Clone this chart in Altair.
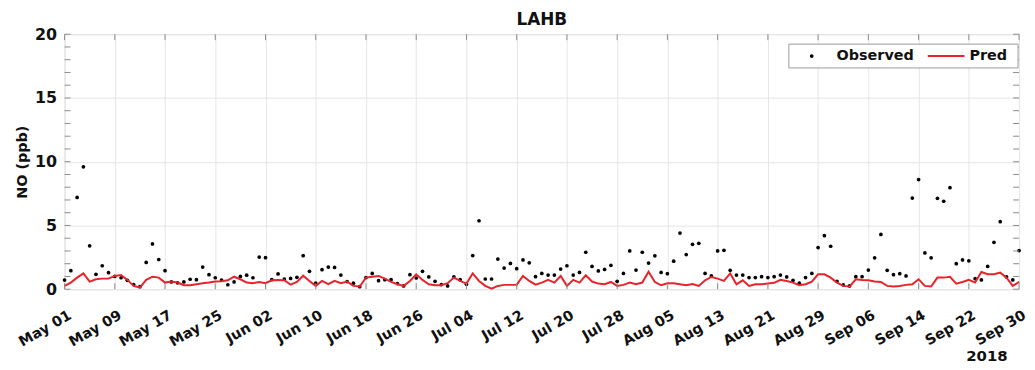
import altair as alt
import pandas as pd

# ---- data (daily, 2018-05-01 .. 2018-09-30) ----
observed = [
    0.72, 1.45, 7.2, 9.6, 3.4, 1.17, 1.84, 1.3, 1.0, 0.9,
    0.7, 0.36, 0.2, 2.1, 3.55, 2.33, 1.45, 0.57, 0.5, 0.57,
    0.78, 0.75, 1.74, 1.14, 0.9, 0.72, 0.35, 0.57, 1.0, 1.1,
    0.9, 2.52, 2.47, 0.75, 1.2, 0.8, 0.85, 0.93, 2.63, 1.4,
    0.47, 1.53, 1.74, 1.71, 1.11, 0.6, 0.47, 0.2, 0.91, 1.24,
    0.67, 0.75, 0.75, 0.44, 0.26, 1.14, 0.88, 1.4, 0.96, 0.62,
    0.36, 0.26, 0.96, 0.75, 0.39, 2.64, 5.37, 0.8, 0.8, 2.36,
    1.66, 2.02, 1.61, 2.3, 2.07, 0.98, 1.24, 1.11, 1.11, 1.58,
    1.84, 1.11, 1.32, 2.9, 1.79, 1.43, 1.55, 1.87, 0.62, 1.24,
    3.0, 1.5, 2.9, 2.05, 2.62, 1.32, 1.22, 2.2, 4.4, 2.72,
    3.52, 3.6, 1.24, 1.04, 3.0, 3.05, 1.48, 1.11, 1.11, 0.91,
    0.91, 0.98, 0.91, 0.98, 1.11, 0.96, 0.7, 0.47, 0.91, 1.24,
    3.27, 4.2, 3.37, 0.62, 0.34, 0.26, 0.98, 0.98, 1.5, 2.46,
    4.3, 1.48, 1.14, 1.22, 1.04, 7.15, 8.6, 2.85, 2.46, 7.13,
    6.9, 7.96, 2.0, 2.3, 2.23, 0.83, 0.73, 1.79, 3.68, 5.3,
    0.96, 0.73, 3.03,
]
pred = [
    0.26, 0.52, 0.91, 1.24, 0.6, 0.78, 0.83, 0.83, 1.04, 1.11,
    0.73, 0.26, 0.13, 0.73, 0.98, 0.91, 0.52, 0.6, 0.52, 0.31,
    0.31, 0.39, 0.47, 0.52, 0.6, 0.62, 0.7, 0.98, 0.78, 0.52,
    0.47, 0.57, 0.47, 0.7, 0.73, 0.7, 0.36, 0.57, 1.06, 0.65,
    0.26, 0.65, 0.39, 0.65, 0.47, 0.6, 0.26, 0.21, 0.91, 0.98,
    1.04, 0.83, 0.57, 0.39, 0.26, 0.65, 1.17, 0.73, 0.39, 0.31,
    0.31, 0.47, 0.91, 0.65, 0.44, 1.24, 0.65, 0.26, 0.05, 0.26,
    0.34, 0.34, 0.34, 1.04, 0.65, 0.36, 0.52, 0.73, 0.52, 1.04,
    0.26, 0.73, 0.52, 1.09, 0.6, 0.44, 0.39, 0.57, 0.26, 0.34,
    0.52, 0.39, 0.52, 1.37, 0.57, 0.31, 0.47, 0.47, 0.39, 0.31,
    0.41, 0.26, 0.7, 0.96, 0.83, 0.65, 1.24, 0.39, 0.7, 0.26,
    0.39, 0.39, 0.44, 0.5, 0.74, 0.65, 0.52, 0.31, 0.39, 0.6,
    1.17, 1.17, 0.91, 0.52, 0.26, 0.21, 0.78, 0.73, 0.7, 0.6,
    0.57, 0.26, 0.21, 0.26, 0.34, 0.39, 0.78, 0.26, 0.21, 0.91,
    0.91, 0.98, 0.44, 0.57, 0.73, 0.52, 1.35, 1.17, 1.17, 1.3,
    0.91, 0.26, 0.57,
]
tick_labels = [
    "May 01", "May 09", "May 17", "May 25", "Jun 02", "Jun 10", "Jun 18",
    "Jun 26", "Jul 04", "Jul 12", "Jul 20", "Jul 28", "Aug 05", "Aug 13",
    "Aug 21", "Aug 29", "Sep 06", "Sep 14", "Sep 22", "Sep 30",
]
x_ticks = list(range(0, 153, 8))
y_major = [0, 5, 10, 15, 20]
y_minor = list(range(0, 21))

df = pd.DataFrame({"day": list(range(len(observed))), "observed": observed, "pred": pred})
xtick_df = pd.DataFrame({"day": x_ticks})
ytick_df = pd.DataFrame({"v": y_minor})

W, H = 962, 257
FONT = "DejaVu Sans"
FRAME = "#8c8c8c"
RED = "#e8232b"
INK = "#111111"

xscale = alt.Scale(domain=[0, 152], nice=False, zero=False)
yscale = alt.Scale(domain=[0, 20], nice=False, zero=False)

label_expr = "[" + ",".join("'%s'" % l for l in tick_labels) + "][round(datum.value / 8)]"

xaxis = alt.Axis(
    values=x_ticks, labelExpr=label_expr, labelAngle=330, labelAlign="right",
    labelBaseline="top", labelFont=FONT, labelFontWeight="bold", labelFontSize=14.5,
    labelColor=INK, labelPadding=19, labelOffset=2, ticks=False, domain=False,
    grid=True, gridColor="#e6e6e6", labelOverlap=False, labelBound=False,
    title="2018", titleFont=FONT, titleFontWeight="bold", titleFontSize=15,
    titleColor=INK, titleAnchor="end", titleAlign="right",
    titleX=950, titleY=67, titleBaseline="middle",
)
yaxis = alt.Axis(
    values=y_major, labelFont=FONT, labelFontWeight="bold", labelFontSize=16,
    labelColor=INK, labelPadding=8, ticks=False, domain=False,
    grid=True, gridColor="#e6e6e6",
    title="NO (ppb)", titleFont=FONT, titleFontWeight="bold", titleFontSize=14.5,
    titleColor=INK, titlePadding=5,
)

X = lambda f: alt.X(f, scale=xscale, axis=xaxis)
Y = lambda f: alt.Y(f, scale=yscale, axis=yaxis)

points = alt.Chart(df).mark_circle(size=14, color="black", opacity=1).encode(
    x=X("day:Q"), y=Y("observed:Q"))
line = alt.Chart(df).mark_line(color=RED, strokeWidth=2).encode(
    x=X("day:Q"), y=Y("pred:Q"))

# inward tick marks on all four sides (MATLAB style)
top_ticks = alt.Chart(xtick_df).mark_rule(color=FRAME).encode(
    x=X("day:Q"), y=alt.value(0), y2=alt.value(6))
bot_ticks = alt.Chart(xtick_df).mark_rule(color=FRAME).encode(
    x=X("day:Q"), y=alt.value(H), y2=alt.value(H - 6))
left_ticks = alt.Chart(ytick_df).mark_rule(color=FRAME).encode(
    y=Y("v:Q"), x=alt.value(0), x2=alt.value(6))
right_ticks = alt.Chart(ytick_df).mark_rule(color=FRAME).encode(
    y=Y("v:Q"), x=alt.value(W - 6), x2=alt.value(W))

# legend box (upper right, inside the plot)
leg_df = pd.DataFrame({"a": ["Observed"], "b": ["Pred"]})
leg_box = alt.Chart(leg_df).mark_rect(fill="white", stroke="#9a9a9a", strokeWidth=1).encode(
    x=alt.value(730), x2=alt.value(961), y=alt.value(10), y2=alt.value(34))
leg_dot = alt.Chart(leg_df).mark_circle(size=14, color="black", opacity=1).encode(
    x=alt.value(753), y=alt.value(22))
leg_txt1 = alt.Chart(leg_df).mark_text(
    font=FONT, fontWeight="bold", fontSize=14.5, align="left", baseline="middle", color=INK
).encode(x=alt.value(778), y=alt.value(22), text="a:N")
leg_line = alt.Chart(leg_df).mark_rule(color=RED, strokeWidth=2).encode(
    x=alt.value(870), x2=alt.value(907), y=alt.value(22))
leg_txt2 = alt.Chart(leg_df).mark_text(
    font=FONT, fontWeight="bold", fontSize=14.5, align="left", baseline="middle", color=INK
).encode(x=alt.value(912), y=alt.value(22), text="b:N")

chart = alt.layer(
    points, line, top_ticks, bot_ticks, left_ticks, right_ticks,
    leg_box, leg_dot, leg_txt1, leg_line, leg_txt2,
).properties(
    width=W, height=H,
    title=alt.TitleParams("LAHB", font=FONT, fontWeight="bold", fontSize=17,
                          color=INK, anchor="middle", offset=-3),
    autosize=alt.AutoSizeParams(type="none"),
    padding={"left": 57, "top": 25, "right": 8, "bottom": 80},
).configure_view(
    stroke=FRAME, strokeWidth=1.5,
).configure(background="white")

chart.save("out.html", embed_options={"renderer": "svg", "actions": False})
